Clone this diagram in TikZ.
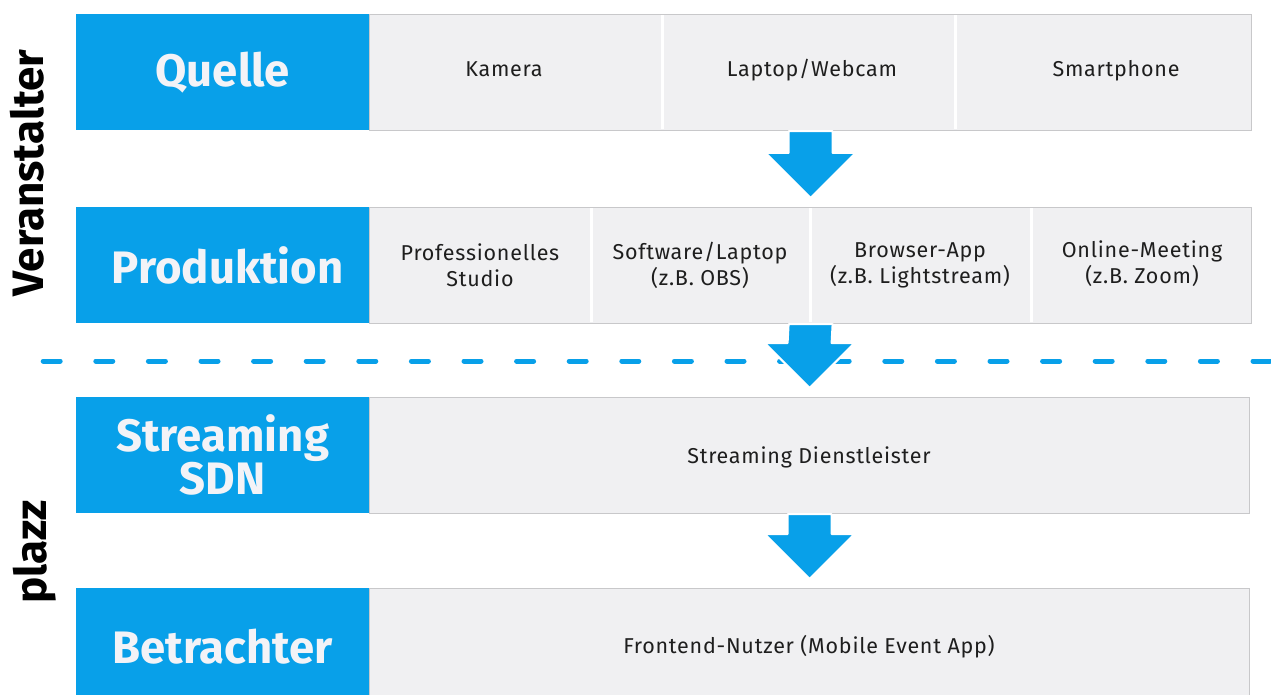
\documentclass[tikz,border=0pt]{standalone}
\usepackage{fontspec}
\setmainfont{Fira Sans}
\newfontfamily\cellfont[LetterSpace=3.5]{Fira Sans}
\usetikzlibrary{positioning}
\definecolor{mblue}{HTML}{08A0E9}
\definecolor{mgrey}{HTML}{F0F0F2}
\definecolor{mline}{HTML}{C8C8CA}
\definecolor{mwhite}{HTML}{F3F3F7}
\definecolor{mtext}{HTML}{1E1E1E}
\tikzset{title/.style = {fill=mblue, text=mwhite, anchor=north west, inner sep=0,
                         minimum width=293pt, minimum height=116pt, align=center,
                         font=\bfseries\fontsize{45.5}{40}\selectfont}}
\tikzset{row/.style = {fill=mgrey, draw=mline, line width=1.2pt, anchor=north west,
                       inner sep=0, minimum height=116pt}}
\tikzset{cell/.style = {text=mtext, anchor=base, align=center,
                        font=\cellfont\fontsize{21.5}{26}\selectfont}}
\tikzset{sep/.style = {white, line width=3pt}}
\tikzset{side/.style = {rotate=90, font=\bfseries\fontsize{44}{44}\selectfont}}
\tikzset{divider/.style = {mblue, line width=5pt, line cap=round,
                           dash pattern=on 17pt off 35.6pt}}
\tikzset{flow/.style = {fill=mblue, draw=white, line width=2pt, line join=round}}
% block arrow from the bottom of one row to just above the next
\newcommand{\flowarrow}[2]{%
  \coordinate (#2-tip) at ([yshift=9pt]#2.north);
  \draw [flow] (#2-tip) -- ++(-45,-45) -- ++(23,0) -- ([xshift=-22pt]#1.south)
    -- ([xshift=22pt]#1.south) -- ([shift={(22,-45)}]#2-tip) -- ++(23,0) -- cycle;}

\begin{document}
\begin{tikzpicture}[x=1pt, y=-1pt]
    \useasboundingbox (0,0) rectangle (1271,695);

    % grey rows
    \node [row, minimum width=882pt] (quelle-row) at (369,14) {};
    \node [row, minimum width=882pt] (produktion-row) at (369,207) {};
    \node [row, minimum width=880pt] (sdn-row) at (369,397) {};
    \node [row, minimum width=880pt] (betrachter-row) at (369,588) {};

    \draw [sep] (662,15) -- (662,129);
    \draw [sep] (955,15) -- (955,129);
    \draw [sep] (591,208) -- (591,322);
    \draw [sep] (810,208) -- (810,322);
    \draw [sep] (1031,208) -- (1031,322);

    % blue titles
    \node [title] (quelle) at (76,14) {Quelle};
    \node [title] (produktion) at (76,207) {\hspace*{10pt}Produktion};
    \node [title] (sdn) at (76,397) {Streaming\\SDN};
    \node [title] (betrachter) at (76,588) {Betrachter};

    \node [cell] (kamera) at (504,77) {Kamera};
    \node [cell] (webcam) at (812,77) {Laptop/Webcam};
    \node [cell] (smartphone) at (1116,77) {Smartphone};

    \node [cell] (studio) at (480,286) {Professionelles\\Studio};
    \node [cell] (software) at (700,285) {Software/Laptop\\(z.B. OBS)};
    \node [cell] (browser) at (920,283) {Browser-App\\(z.B. Lightstream)};
    \node [cell] (meeting) at (1142,283) {Online-Meeting\\(z.B. Zoom)};

    \node [cell] (dienstleister) at (809,463) {Streaming Dienstleister};
    \node [cell] (nutzer) at (809,653) {Frontend-Nutzer (Mobile Event App)};

    % side labels
    \node [side] (veranstalter) at (27,173) {Veranstalter};
    \node [side] (plazz) at (35,552) {plazz};

    \coordinate (div-l) at (43.2,361);
    \coordinate (div-r) at (1290,361);
    \draw [divider] (div-l) -- (div-r);

    \flowarrow{quelle-row}{produktion-row}
    \flowarrow{produktion-row}{sdn-row}
    \flowarrow{sdn-row}{betrachter-row}
  \end{tikzpicture}
\end{document}
